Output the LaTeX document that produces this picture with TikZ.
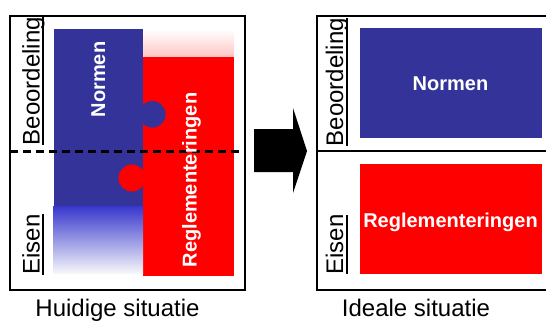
\documentclass[tikz,border=0pt]{standalone}
\usepackage{fontspec}
\setmainfont{Liberation Sans}
\definecolor{normblue}{RGB}{51,51,153}
\definecolor{gradblue}{RGB}{55,55,205}
\definecolor{fadeblue}{RGB}{246,246,250}
\definecolor{regred}{RGB}{255,0,0}
\definecolor{pinkred}{RGB}{255,198,198}
\tikzset{
  frame/.style={draw=black, line width=2.6pt},
  divider/.style={draw=black, line width=3pt, dash pattern=on 8pt off 5pt},
  axislabel/.style={rotate=90, anchor=base, inner sep=0pt, font=\fontsize{24}{28}\selectfont},
  axisline/.style={draw=black, line width=1.6pt},
  blocklabel/.style={text=white, inner sep=0pt, font=\bfseries\fontsize{20}{24}\selectfont},
  caption/.style={anchor=base, inner sep=0pt, font=\fontsize{24}{28}\selectfont},
}
\begin{document}
\begin{tikzpicture}[x=1pt, y=-1pt]
\useasboundingbox (0,0) rectangle (546,322);

% ---------- current situation ----------
% red block with its faded top
\shade[top color=white, bottom color=pinkred] (143,29) rectangle (234,57);
\fill[regred] (143,57) rectangle (234,276);
% blue block with its faded bottom
\fill[normblue] (54,29) rectangle (143,206);
\shade[top color=gradblue, bottom color=fadeblue] (53,206) rectangle (143,273);
% puzzle knobs
\fill[normblue] (152.3,114.3) circle[radius=13.3];
\fill[regred] (132,178) circle[radius=13.5];
% dashed border between the two halves
\coordinate (dl) at (10,151);
\coordinate (dr) at (245,151);
\draw[divider] (dl) -- (dr);
% outer frame
\draw[frame] (10,16) rectangle (245,290);

\node[axislabel] (lbeo) at (39.5,81) {Beoordeling};
\draw[axisline] (43,17) -- (43,145);
\node[axislabel] (leis) at (39.5,244.5) {Eisen};
\draw[axisline] (43,214) -- (43,275);

\node[blocklabel, rotate=90] (lnorm) at (98.3,79.5) {Normen};
\node[blocklabel, rotate=90, anchor=base] (lreg) at (196.5,180) {Reglementeringen};

\node[caption] (lcap) at (117.5,316.5) {Huidige situatie};

% ---------- arrow ----------
\coordinate (a1) at (254,129);
\coordinate (a2) at (293,129);
\coordinate (a3) at (293,108);
\coordinate (tip) at (307,151);
\coordinate (a5) at (293,193);
\coordinate (a6) at (293,172);
\coordinate (a7) at (254,172);
\fill[black] (a1) -- (a2) -- (a3) -- (tip) -- (a5) -- (a6) -- (a7) -- cycle;

% ---------- ideal situation ----------
\fill[normblue] (360,28) rectangle (542,138);
\fill[regred] (360,164) rectangle (542,274);
\draw[frame] (547,16) -- (317,16) -- (317,290) -- (547,290);
\draw[frame] (317,151) -- (547,151);

\node[axislabel] (rbeo) at (343,82) {Beoordeling};
\draw[axisline] (347,18) -- (347,146);
\node[axislabel] (reis) at (343,244.5) {Eisen};
\draw[axisline] (347,215) -- (347,274);

\node[blocklabel] (rnorm) at (450.5,84) {Normen};
\node[blocklabel, anchor=base] (rreg) at (450.5,227.5) {Reglementeringen};

\node[caption] (rcap) at (416,316.5) {Ideale situatie};
\end{tikzpicture}
\end{document}
